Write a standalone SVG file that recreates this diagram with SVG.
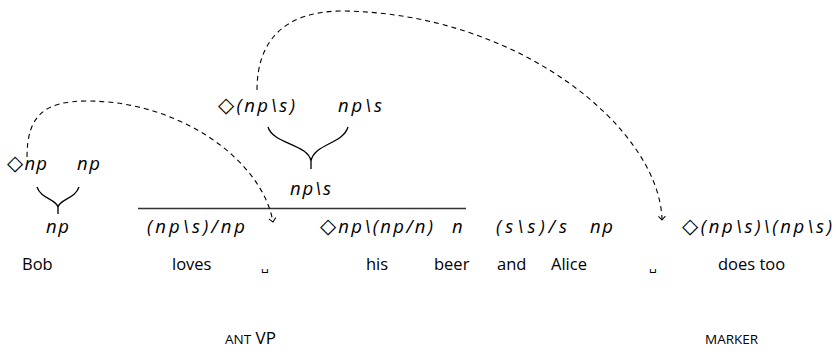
<svg xmlns="http://www.w3.org/2000/svg" width="836" height="354" viewBox="0 0 836 354">
<defs>
<style>
text{font-family:"Open Sans","Liberation Sans",sans-serif;font-size:16.5px;fill:#000}
.m{font-style:italic;font-size:18.5px}
.d{font-family:"DejaVu Sans",sans-serif;font-style:normal;font-size:21px}
.sc{font-size:13.5px}
.vp{font-size:17px}
.sp{font-family:"DejaVu Sans",sans-serif;font-size:12px}
.br{fill:none;stroke:#000;stroke-width:1.3}
.dash{fill:none;stroke:#000;stroke-width:1.1;stroke-dasharray:5,4}
</style>
<marker id="ah" viewBox="-5 -5 10 10" markerWidth="10" markerHeight="10" refX="0" refY="0" orient="auto" markerUnits="userSpaceOnUse">
<path d="M-3.8,-3.5 Q-1,-0.8 0,0 Q-1,0.8 -3.8,3.5" fill="none" stroke="#000" stroke-width="1"/>
</marker>
</defs>
<rect width="836" height="354" fill="#fff"/>
<g id="bob-tree">
<text class="m" x="7" y="170" textLength="40"><tspan class="d">◇</tspan>np</text>
<text class="m" x="77" y="170" textLength="23">np</text>
<path class="br" d="M37,187 C41,199 56,199 58,207 C60,199 75,199 79,187 M58,207 L58,214"/>
<text class="m" x="46" y="233" textLength="23">np</text>
</g>
<g id="vp-tree">
<text class="m" x="218" y="112" textLength="77"><tspan class="d">◇</tspan>(np\s)</text>
<text class="m" x="338" y="112" textLength="44">np\s</text>
<path class="br" d="M268,127 C273,144 308,144 311,161 C314,144 343,144 348,127 M311,161 L311,169"/>
<text class="m" x="290" y="195" textLength="41">np\s</text>
<line x1="138" y1="208.5" x2="466" y2="208.5" stroke="#333" stroke-width="1.3"/>
</g>
<g id="types">
<text class="m" x="147" y="233" textLength="98">(np\s)/np</text>
<text class="m" x="320" y="233" textLength="113"><tspan class="d">◇</tspan>np\(np/n)</text>
<text class="m" x="452" y="233" textLength="9">n</text>
<text class="m" x="496" y="233" textLength="71">(s\s)/s</text>
<text class="m" x="590" y="233" textLength="23">np</text>
<text class="m" x="682" y="233" textLength="150"><tspan class="d">◇</tspan>(np\s)\(np\s)</text>
</g>
<g id="words">
<text x="22" y="270">Bob</text>
<text x="172" y="270">loves</text>
<text class="sp" x="261" y="270">␣</text>
<text x="366" y="270">his</text>
<text x="434" y="270">beer</text>
<text x="497" y="270">and</text>
<text x="551" y="270">Alice</text>
<text class="sp" x="649" y="270">␣</text>
<text x="718" y="270">does too</text>
</g>
<g id="labels">
<text class="vp" x="225" y="344"><tspan class="sc">ANT</tspan> VP</text>
<text class="sc" x="705" y="344">MARKER</text>
</g>
<g id="connectors">
<path class="dash" d="M27,157 C27,115 45,101 87,101 C180,101 262,160 273,222" marker-end="url(#ah)"/>
<path class="dash" d="M257,90 C257,40 285,12 340,11 C520,12 660,130 662,220" marker-end="url(#ah)"/>
</g>
</svg>
